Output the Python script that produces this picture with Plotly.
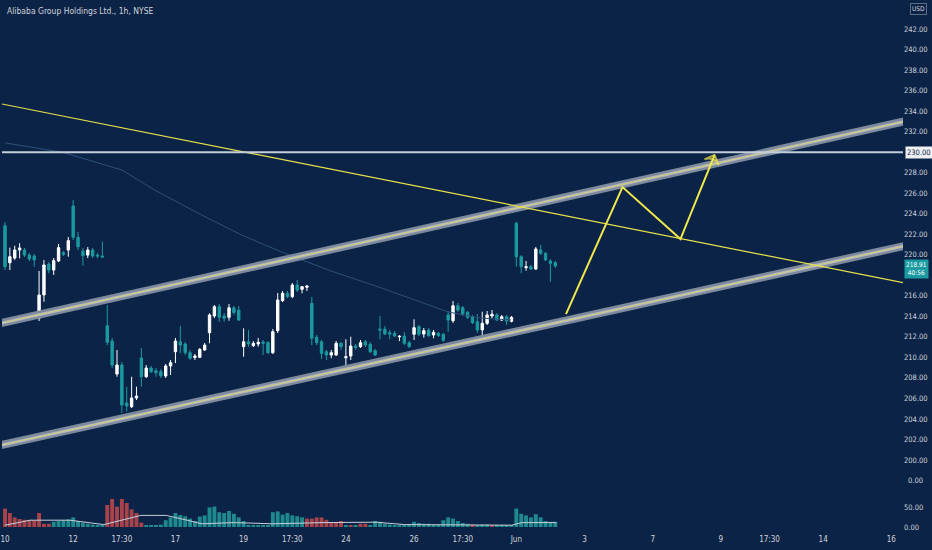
import plotly.graph_objects as go

# hourly bars, May 10 -> Jun 2 (7 bars per trading day), x = bar number
opens = [222.83, 219.22, 219.68, 220.46, 220.46, 219.97, 219.88, 213.81, 216.08, 219.10,
         218.51, 219.39, 220.20, 220.46, 224.75, 221.70, 220.36, 219.97, 220.46, 219.97,
         219.88, 213.08, 211.59, 208.38, 209.25, 205.55, 205.19, 206.04, 209.94, 208.11,
         208.96, 208.70, 208.60, 208.18, 209.16, 210.55, 211.52, 211.30, 210.45, 209.99,
         210.00, 210.72, 212.40, 214.03, 214.94, 214.03, 213.90, 214.83, 214.60, 211.04,
         211.52, 211.14, 211.30, 211.50, 211.43, 210.45, 212.60, 215.52, 216.24, 215.91,
         217.05, 216.63, 216.83, 215.27, 211.96, 211.52, 210.55, 210.23, 210.23, 211.37,
         209.96, 210.13, 211.10, 211.04, 211.52, 211.27, 210.65, 212.76, 212.73, 212.40,
         212.34, 212.00, 212.08, 211.43, 212.25, 212.99, 212.27, 212.66, 212.18, 212.34,
         212.25, 214.13, 213.57, 215.03, 214.84, 214.39, 213.96, 213.47, 212.67, 213.32,
         214.03, 214.13, 213.64, 213.96, 213.51, 223.07, 219.81, 218.74, 218.83, 218.61,
         220.46, 220.14, 219.39, 219.23]
highs = [223.19, 220.69, 220.88, 221.12, 220.66, 220.17, 220.07, 218.42, 219.49, 219.29,
         219.68, 221.05, 220.36, 221.73, 225.34, 222.22, 220.66, 220.75, 220.66, 220.17,
         221.27, 215.10, 211.89, 210.72, 209.55, 207.14, 208.11, 207.14, 210.91, 209.25,
         209.16, 208.96, 208.86, 209.35, 209.74, 211.89, 213.08, 211.50, 210.72, 210.33,
         210.91, 211.40, 214.29, 215.10, 215.20, 214.32, 215.20, 215.00, 215.00, 212.83,
         212.67, 211.59, 211.89, 211.69, 211.59, 212.76, 216.27, 216.47, 216.47, 217.25,
         217.54, 216.95, 217.05, 215.91, 212.17, 211.69, 210.72, 210.72, 211.59, 211.50,
         211.76, 212.01, 211.30, 211.69, 211.69, 211.50, 210.81, 214.03, 213.05, 212.67,
         212.57, 212.17, 212.47, 211.59, 213.71, 213.15, 212.86, 212.86, 212.67, 212.47,
         212.37, 214.52, 215.49, 215.30, 215.00, 214.52, 214.13, 214.22, 214.45, 214.52,
         214.61, 214.32, 214.13, 214.13, 214.03, 223.22, 219.97, 219.39, 219.00, 220.75,
         220.95, 220.27, 219.58, 219.39]
lows = [218.51, 218.51, 219.49, 219.65, 219.78, 219.39, 218.83, 213.54, 215.42, 218.19,
        218.03, 219.29, 219.88, 219.81, 221.44, 220.46, 218.93, 219.68, 219.68, 219.68,
        219.68, 211.20, 208.96, 208.11, 204.57, 204.70, 205.06, 205.84, 207.14, 207.99,
        208.47, 208.11, 207.99, 207.99, 208.28, 209.45, 210.39, 210.23, 209.74, 209.74,
        209.94, 210.62, 211.37, 213.83, 213.47, 213.47, 213.57, 214.15, 213.54, 210.06,
        211.04, 211.00, 211.04, 210.23, 210.33, 210.33, 212.37, 215.39, 215.78, 215.78,
        216.37, 216.24, 216.47, 211.20, 211.20, 209.84, 209.74, 209.91, 210.13, 210.72,
        208.60, 209.74, 210.72, 210.92, 211.00, 210.42, 210.13, 211.76, 212.17, 211.76,
        212.00, 211.59, 211.20, 210.91, 211.69, 212.08, 211.92, 212.00, 211.86, 212.00,
        211.50, 212.50, 213.35, 214.42, 214.03, 213.74, 213.25, 212.37, 212.01, 213.15,
        213.83, 213.54, 213.54, 213.15, 213.41, 218.83, 218.19, 218.45, 218.51, 218.51,
        219.97, 219.39, 217.37, 218.71]
closes = [218.83, 219.81, 220.46, 220.66, 219.97, 219.58, 219.49, 216.08, 219.00, 218.51,
          219.42, 220.69, 220.04, 221.37, 221.70, 220.78, 219.91, 220.46, 219.88, 219.88,
          219.78, 211.47, 209.25, 209.25, 205.35, 205.26, 206.04, 206.23, 208.11, 208.96,
          208.60, 208.50, 208.21, 209.16, 209.48, 211.59, 211.20, 210.45, 209.91, 210.13,
          210.78, 211.20, 214.13, 214.94, 213.90, 213.81, 214.83, 214.37, 213.64, 211.52,
          211.30, 211.37, 211.47, 211.37, 210.45, 212.50, 215.59, 216.24, 215.91, 217.05,
          216.56, 216.89, 216.95, 211.86, 211.43, 210.39, 210.23, 210.45, 211.37, 211.04,
          210.06, 211.10, 210.98, 211.43, 211.20, 210.55, 210.23, 212.66, 212.27, 212.27,
          212.08, 212.05, 211.37, 211.04, 212.89, 212.25, 212.60, 212.11, 212.44, 212.11,
          211.66, 213.64, 215.03, 214.61, 214.22, 213.90, 213.38, 212.67, 213.32, 214.13,
          214.20, 213.64, 213.96, 213.54, 213.90, 219.81, 218.83, 218.83, 218.61, 220.56,
          220.14, 219.49, 219.16, 218.91]

volume = [46, 35, 24, 20, 18, 18, 17, 35, 8, 8,
          13, 15, 17, 19, 24, 15, 11, 8, 6, 4,
          5, 55, 70, 51, 70, 60, 44, 35, 11, 4,
          5, 5, 6, 17, 24, 35, 30, 27, 21, 15,
          26, 29, 49, 51, 37, 35, 40, 33, 24, 15,
          5, 4, 4, 5, 4, 37, 39, 31, 35, 29,
          27, 24, 21, 21, 24, 24, 18, 11, 11, 15,
          4, 4, 4, 8, 8, 4, 15, 13, 8, 6,
          4, 4, 4, 6, 13, 10, 8, 8, 6, 6,
          17, 24, 21, 15, 10, 8, 6, 4, 6, 6,
          4, 4, 4, 4, 4, 46, 33, 29, 24, 32,
          24, 15, 13, 13]
vol_up = [0, 0, 0, 0, 0, 0, 0, 0, 0, 0,
          1, 1, 1, 1, 1, 1, 1, 1, 1, 1,
          1, 0, 0, 0, 0, 0, 0, 0, 0, 1,
          1, 1, 1, 1, 1, 1, 1, 1, 1, 1,
          1, 1, 1, 1, 1, 1, 1, 1, 1, 1,
          1, 1, 1, 1, 1, 1, 1, 1, 1, 1,
          1, 1, 0, 0, 0, 0, 0, 0, 0, 0,
          1, 0, 1, 0, 0, 1, 1, 1, 1, 1,
          1, 1, 1, 1, 1, 1, 1, 1, 1, 1,
          1, 1, 1, 1, 1, 1, 0, 1, 1, 1,
          0, 1, 1, 1, 1, 1, 1, 1, 1, 1,
          1, 1, 1, 1]
vol_ma_x = [0, 5.2, 13.3, 20.3, 27.9, 33.1, 37.4, 40.4, 47, 55, 65.3, 76.2, 82.1, 94.5, 104, 106.2, 113.2]
vol_ma = [4.5, 17, 17, 6, 29, 29, 17, 8, 11, 8, 11, 12, 6, 4.5, 4.5, 11, 11]

# moving average on price
ma_x = [0, 11.7, 24, 30.7, 40.4, 48.6, 56.8, 66.4, 77.3, 91, 97.7, 103.9]
ma_y = [230.9, 230.0, 228.26, 226.31, 223.87, 221.92, 220.27, 218.51, 216.76, 214.42, 213.83, 213.64]

# drawings
trend_x = [-1, 185]
upper_channel = [213.31, 233.03]
lower_channel = [201.42, 220.89]
falling_line = [234.73, 217.23]
resistance = 230.0
path_x = [115.2, 126.8, 138.7, 145.7]
path_y = [214.22, 226.6, 221.53, 229.72]

tick_pos = [0, 14, 24, 35, 49, 59, 70, 84, 94, 105, 119, 133, 147, 157, 168, 182]
tick_text = ["10", "12", "17:30", "17", "19", "17:30", "24", "26", "17:30", "Jun",
             "3", "7", "9", "17:30", "14", "16"]
# 218 and 230 sit under the price / level boxes
price_ticks = [v for v in range(200, 243, 2) if v not in (218, 230)]

bg = "#0b2346"
teal = "#1b9aa1"
txt = "#d1d4dc"
font = "Liberation Sans Narrow, DejaVu Sans Condensed, Roboto Condensed, Arial Narrow, sans-serif"
bars = list(range(len(opens)))

fig = go.Figure()

fig.add_trace(go.Bar(
    x=bars, y=volume, yaxis="y2", width=0.8,
    marker=dict(color=["#1f8a8e" if u else "#a9434b" for u in vol_up], line_width=0),
))
fig.add_trace(go.Scatter(x=vol_ma_x, y=vol_ma, yaxis="y2", mode="lines",
                         line=dict(color="#c9cfd8", width=1)))

fig.add_trace(go.Scatter(x=ma_x, y=ma_y, mode="lines", line=dict(color="#2d5079", width=1)))

fig.add_trace(go.Candlestick(
    x=bars, open=opens, high=highs, low=lows, close=closes,
    increasing=dict(line=dict(color="#ffffff", width=1), fillcolor="#ffffff"),
    decreasing=dict(line=dict(color=teal, width=1), fillcolor=teal),
    whiskerwidth=0,
))

# channel bands
for chan in (upper_channel, lower_channel):
    fig.add_trace(go.Scatter(x=trend_x, y=chan, mode="lines", line=dict(color="#7d899c", width=8)))
    fig.add_trace(go.Scatter(x=trend_x, y=chan, mode="lines", line=dict(color="#aeb6c2", width=3)))
    fig.add_trace(go.Scatter(x=trend_x, y=chan, mode="lines", line=dict(color="#d6cf78", width=1)))

fig.add_trace(go.Scatter(x=trend_x, y=falling_line, mode="lines", line=dict(color="#e9e24b", width=1.2)))
fig.add_trace(go.Scatter(x=trend_x, y=[resistance, resistance], mode="lines",
                         line=dict(color="#c3cedb", width=2)))

fig.add_trace(go.Scatter(
    x=path_x, y=path_y, mode="lines+markers",
    line=dict(color="#f0e74a", width=2),
    marker=dict(symbol="arrow-wide-open", angleref="previous", size=[0, 0, 0, 11],
                color="#f0e74a", line=dict(color="#f0e74a", width=[0, 0, 0, 2])),
))

fig.update_layout(
    width=932, height=550,
    margin=dict(l=0, r=29, t=0, b=17),
    paper_bgcolor=bg, plot_bgcolor=bg,
    showlegend=False,
    font=dict(family=font, color=txt, size=8),
    xaxis=dict(range=[-0.615, 184.4], tickvals=tick_pos, ticktext=tick_text,
               showgrid=False, zeroline=False, showline=False, ticks="",
               ticklabeloverflow="allow",
               rangeslider=dict(visible=False), tickfont=dict(size=8, color=txt)),
    yaxis=dict(side="right", range=[192.88, 244.83], tickvals=price_ticks,
               ticktext=[f"{v:.2f}" for v in price_ticks],
               showgrid=False, zeroline=False, showline=False, ticks="",
               tickfont=dict(size=7.5, color=txt)),
    yaxis2=dict(side="right", overlaying="y", range=[-15, 1317.5],
                tickvals=[0, 50], ticktext=["0.00", "50.00"],
                showgrid=False, zeroline=False, showline=False, ticks="",
                tickfont=dict(size=7.5, color=txt)),
    annotations=[
        dict(text="Alibaba Group Holdings Ltd., 1h, NYSE", x=0, y=1, xref="paper", yref="paper",
             xanchor="left", yanchor="top", xshift=3, yshift=-4, showarrow=False,
             font=dict(size=8.5, color=txt)),
        dict(text="USD", x=1, y=1, xref="paper", yref="paper", xanchor="left", yanchor="top",
             xshift=7, yshift=-3, showarrow=False, bordercolor="#5d6b80", borderwidth=1, borderpad=1,
             font=dict(size=6.5, color=txt)),
        dict(text=f"{resistance:.2f}", x=1, y=resistance, xref="paper", yref="y",
             xanchor="left", yanchor="middle", xshift=2, showarrow=False,
             bgcolor="#eef0f3", borderpad=1, font=dict(size=7.5, color=bg)),
        dict(text=f"{closes[-1]:.2f}<br>40:56", x=1, y=closes[-1], xref="paper", yref="y",
             xanchor="left", yanchor="middle", xshift=1, yshift=-3, showarrow=False,
             bgcolor=teal, borderpad=1, font=dict(size=6.5, color="#ffffff")),
        dict(text="0.00", x=1, y=117.5, xref="paper", yref="y2", xanchor="left", yanchor="middle",
             xshift=3, showarrow=False, font=dict(size=7.5, color=txt)),
    ],
)

fig.write_html("out.html", config={"displayModeBar": False},
               post_script="document.body.style.margin='0';")
